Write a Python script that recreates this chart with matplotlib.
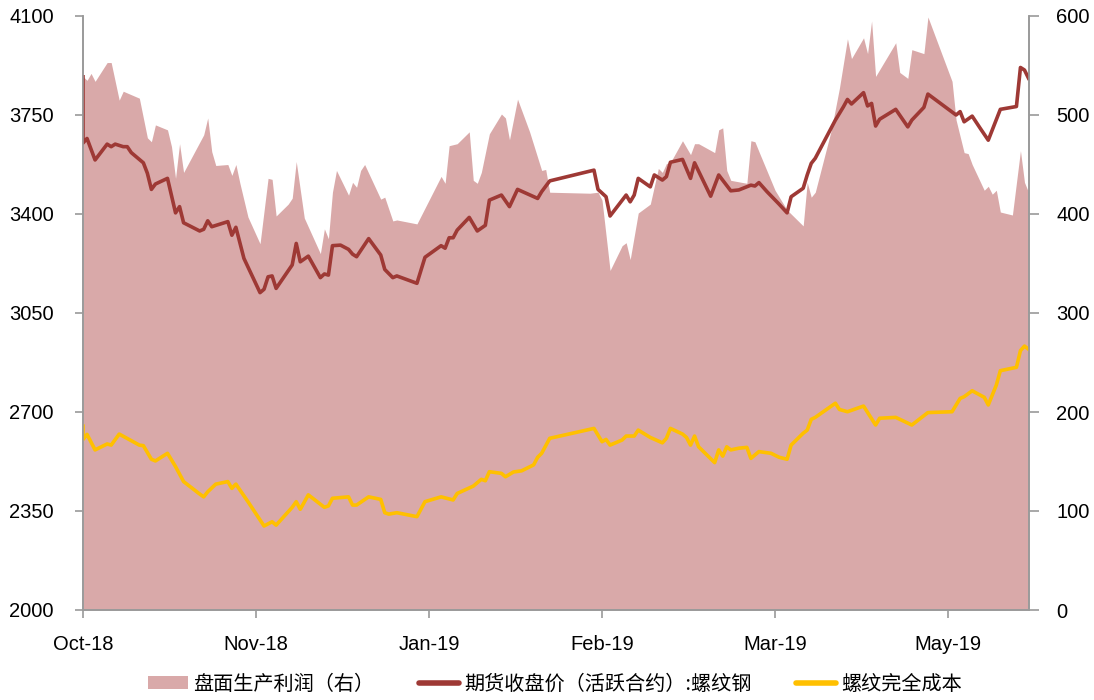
import matplotlib
matplotlib.use("Agg")
import matplotlib.pyplot as plt
import pandas as pd
import numpy as np

# ---- data (days counted from 2018-10-08) ----
base_date = "2018-10-08"
price_days = [0,0,1,3,6,7,8,10,11,12,15,16,17,18,21,23,24,25,29,30,31,32,36,37,38,40,44,45,46,47,48,52,53,54,56,59,60,61,62,64,66,67,68,71,74,75,77,78,83,85,89,90,91,92,93,96,98,100,101,104,106,108,113,114,116,127,128,130,131,135,136,137,138,141,142,144,145,146,149,151,152,156,158,161,163,166,167,168,170,173,175,176,179,180,181,182,187,189,190,191,194,195,196,197,198,202,205,206,209,210,217,218,219,221,223,225,228,232,233,234,235]
price = [3885,3651,3667,3591,3647,3638,3647,3638,3638,3617,3581,3544,3487,3506,3526,3404,3426,3369,3340,3346,3376,3355,3373,3325,3353,3243,3122,3134,3178,3181,3137,3220,3296,3231,3251,3175,3188,3184,3288,3290,3275,3258,3249,3313,3255,3204,3175,3181,3155,3247,3288,3279,3316,3316,3343,3388,3340,3360,3449,3467,3426,3487,3455,3479,3517,3555,3487,3461,3393,3467,3443,3467,3526,3496,3538,3520,3532,3583,3593,3526,3581,3463,3538,3482,3485,3502,3499,3511,3479,3435,3404,3461,3491,3538,3579,3597,3732,3779,3805,3789,3829,3782,3791,3711,3735,3770,3708,3732,3777,3824,3750,3762,3726,3746,3703,3661,3770,3780,3918,3909,3880]

profit_days = [0,1,2,3,6,7,8,9,10,14,16,17,18,21,22,23,24,25,30,31,32,33,36,37,38,39,41,44,46,47,48,51,52,53,55,59,60,61,62,63,66,67,68,69,70,74,75,77,78,83,85,89,90,91,93,96,97,98,99,101,104,105,106,108,111,114,115,116,126,128,129,131,134,135,136,138,141,143,144,145,146,149,151,152,153,157,158,159,160,161,165,166,167,168,172,175,179,180,181,182,186,188,190,191,194,195,196,197,202,203,205,206,209,210,216,217,219,220,221,224,225,226,227,228,231,233,234,235]
profit = [539,535,542,534,553,553,534,515,524,517,477,473,490,485,468,436,471,442,480,497,463,449,450,439,450,431,397,370,436,435,398,410,416,453,396,360,385,375,422,444,419,432,427,444,450,415,417,393,394,390,406,438,431,469,471,483,434,431,442,481,501,497,475,516,483,444,445,422,421,422,414,343,368,371,354,401,410,446,442,451,452,474,460,471,471,462,485,487,444,434,431,474,473,463,424,404,388,432,417,422,485,527,577,557,578,562,595,539,573,543,537,566,562,599,534,495,462,461,450,424,428,420,424,402,399,464,432,422]

cost_days = [0,0,1,3,6,7,9,14,15,17,18,21,23,25,29,30,31,33,36,37,38,41,45,47,48,52,53,54,56,60,61,62,66,67,68,71,74,75,76,78,83,85,89,92,93,97,99,100,101,104,105,107,109,112,113,114,116,127,129,130,131,134,135,137,138,141,144,145,146,149,150,151,152,153,157,158,159,160,161,163,165,166,168,171,173,175,176,179,180,181,182,187,188,190,194,197,198,202,206,210,216,218,219,221,224,225,226,227,228,232,233,234,235]
cost = [2650,2603,2621,2566,2587,2583,2622,2583,2581,2533,2527,2554,2507,2454,2410,2400,2418,2445,2454,2430,2445,2383,2297,2312,2300,2363,2383,2356,2407,2363,2368,2395,2400,2371,2371,2400,2391,2344,2339,2344,2330,2383,2400,2389,2412,2438,2462,2457,2489,2483,2471,2488,2492,2513,2540,2554,2607,2642,2595,2603,2583,2601,2615,2615,2636,2610,2591,2607,2642,2622,2610,2583,2615,2577,2521,2566,2544,2577,2566,2572,2575,2536,2560,2554,2540,2533,2583,2625,2636,2674,2681,2731,2709,2701,2721,2654,2678,2681,2654,2698,2701,2748,2754,2775,2752,2725,2760,2795,2846,2858,2917,2933,2922]

tick_days = [0, 43, 86, 129, 172, 215]
end_day = 235
left_ticks = [2000, 2350, 2700, 3050, 3400, 3750, 4100]
right_ticks = [0, 100, 200, 300, 400, 500, 600]

labels = ["盘面生产利润（右）", "期货收盘价（活跃合约）:螺纹钢", "螺纹完全成本"]

# ---- styling ----
AREA = "#D9A9A9"
PRICE = "#9E3935"
COST = "#FFC000"
SPINE = "#9A9A9A"
TICKFONT = "Liberation Sans"
CJK = ["Noto Sans CJK SC", "DejaVu Sans"]

base = pd.Timestamp(base_date)
def to_dates(days):
    return base + pd.to_timedelta(np.asarray(days, dtype=float), unit="D")

fig = plt.figure(figsize=(10.94, 7.0), dpi=100)
ax = fig.add_axes([83/1094, 1 - 610/700, (1028.5 - 83)/1094, 594/700])
ax2 = ax.twinx()

area = ax2.fill_between(to_dates(profit_days), 0, profit, color=AREA, linewidth=0)
ln1, = ax.plot(to_dates(price_days), price, color=PRICE, lw=2.6, solid_joinstyle="round")
ln2, = ax.plot(to_dates(cost_days), cost, color=COST, lw=2.6, solid_joinstyle="round")

ax.set_zorder(ax2.get_zorder() + 1)
ax.patch.set_visible(False)

ax.set_ylim(left_ticks[0], left_ticks[-1])
ax2.set_ylim(right_ticks[0], right_ticks[-1])
ax.set_xlim(to_dates([0])[0], to_dates([end_day])[0])

ax.set_yticks(left_ticks)
ax2.set_yticks(right_ticks)
tdates = to_dates(tick_days)
ax.set_xticks(tdates)
ax.set_xticklabels([d.strftime("%b-%y") for d in tdates])

for a in (ax, ax2):
    for s in a.spines.values():
        s.set_color(SPINE)
        s.set_linewidth(1.2)
    a.spines["top"].set_visible(False)

ax.tick_params(axis="y", direction="out", length=6, width=1.2, color=SPINE, pad=15,
               labelsize=14.5)
ax2.tick_params(axis="y", direction="out", length=7, width=1.2, color=SPINE, pad=13,
                labelsize=14.5)
ax.tick_params(axis="x", direction="out", length=6, width=1.2, color=SPINE, pad=12,
               labelsize=14.5)
for lab in ax.get_xticklabels() + ax.get_yticklabels() + ax2.get_yticklabels():
    lab.set_fontfamily(TICKFONT)
    lab.set_color("black")

leg = fig.legend([area, ln1, ln2], labels, loc="center",
                 bbox_to_anchor=(555/1094, 1 - 684/700), ncol=3, frameon=False,
                 prop={"family": CJK, "size": 14.5}, handlelength=2.0,
                 handletextpad=0.25, columnspacing=2.2, handleheight=0.6)
for h in leg.legend_handles[1:]:
    h.set_linewidth(4)
    h.set_solid_capstyle("round")

fig.savefig("out.png", dpi=100)
